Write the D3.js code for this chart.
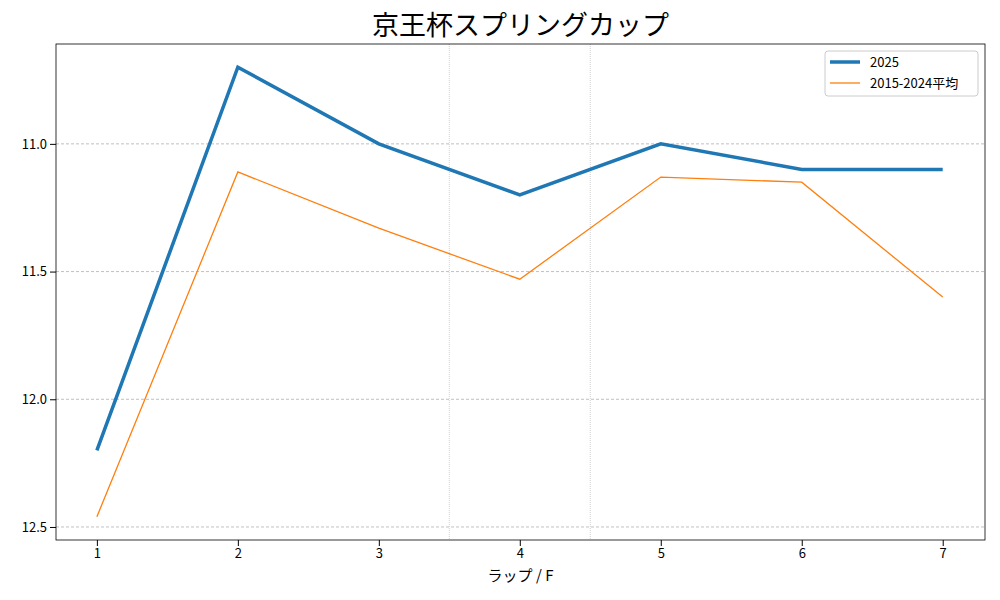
<!DOCTYPE html><html><head><meta charset="utf-8"><script src="https://cdn.jsdelivr.net/npm/d3@7"></script>
<style>body{margin:0;background:#fff}text{font-family:"Noto Sans CJK JP","DejaVu Sans",sans-serif}</style></head><body><svg id="c" width="1000" height="600"></svg>
<script>
const laps=[1,2,3,4,5,6,7];
const y2025=[12.20,10.70,11.0,11.2,11.0,11.1,11.1];
const yAvg=[12.46,11.11,11.33,11.53,11.13,11.15,11.60];
const yTicks=[11.0,11.5,12.0,12.5];
const vLines=[3.5,4.5];
const svg=d3.select("#c");
const L=56,R=985,T=44,B=540;
const x=d3.scaleLinear().domain([0.71,7.3]).range([L,R]);
const y=d3.scaleLinear().domain([10.609,12.551]).range([T,B]);
svg.append("g").selectAll("line").data(yTicks).join("line").attr("x1",L).attr("x2",R).attr("y1",d=>y(d)).attr("y2",d=>y(d)).attr("stroke","#b0b0b0").attr("stroke-width",0.8).attr("stroke-dasharray","3,2");
svg.append("g").selectAll("line").data(vLines).join("line").attr("y1",T).attr("y2",B).attr("x1",d=>x(d)).attr("x2",d=>x(d)).attr("stroke","#b0b0b0").attr("stroke-width",0.6).attr("stroke-dasharray","1,1");
const ax=svg.append("g").attr("transform",`translate(0,${B})`).call(d3.axisBottom(x).tickValues(laps).tickFormat(d3.format("d")).tickSizeOuter(0));
const ay=svg.append("g").attr("transform",`translate(${L},0)`).call(d3.axisLeft(y).tickValues(yTicks).tickFormat(d3.format(".1f")).tickSizeOuter(0));
[ax,ay].forEach(a=>{a.select(".domain").remove();a.selectAll("text").attr("font-size",13).attr("fill","#000");a.selectAll("line").attr("stroke","#000");});
svg.append("rect").attr("x",L).attr("y",T).attr("width",R-L).attr("height",B-T).attr("fill","none").attr("stroke","#000").attr("stroke-width",0.8);
const line=d3.line().x((d,i)=>x(laps[i])).y(d=>y(d));
svg.append("path").datum(y2025).attr("d",line).attr("fill","none").attr("stroke","#1f77b4").attr("stroke-width",3.5);
svg.append("path").datum(yAvg).attr("d",line).attr("fill","none").attr("stroke","#ff7f0e").attr("stroke-width",1.3);
svg.append("text").attr("x",(L+R)/2).attr("y",35).attr("text-anchor","middle").attr("font-size",27).text("京王杯スプリングカップ");
svg.append("text").attr("x",(L+R)/2).attr("y",581).attr("text-anchor","middle").attr("font-size",15).text("ラップ / F");
const lg=svg.append("g");
lg.append("rect").attr("x",825).attr("y",51).attr("width",153).attr("height",45).attr("rx",3).attr("fill","#fff").attr("stroke","#ccc");
lg.append("line").attr("x1",830).attr("x2",860).attr("y1",62).attr("y2",62).attr("stroke","#1f77b4").attr("stroke-width",3.5);
lg.append("line").attr("x1",830).attr("x2",860).attr("y1",83).attr("y2",83).attr("stroke","#ff7f0e").attr("stroke-width",1.3);
lg.append("text").attr("x",870).attr("y",67).attr("font-size",13).text("2025");
lg.append("text").attr("x",870).attr("y",88).attr("font-size",13).text("2015-2024平均");
</script></body></html>
